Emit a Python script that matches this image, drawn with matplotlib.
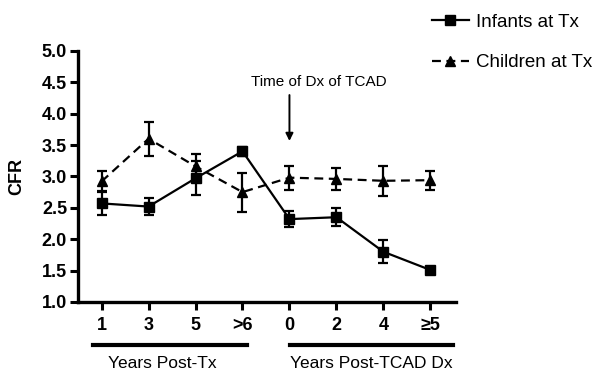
import matplotlib
matplotlib.use("Agg")
import matplotlib.pyplot as plt
from matplotlib.lines import Line2D

plt.rcParams['font.family'] = ['Liberation Sans', 'DejaVu Sans']

# CFR by follow-up time point
tick_labels = ['1', '3', '5', '>6', '0', '2', '4', '\u22655']
infants = [2.57, 2.52, 2.97, 3.40, 2.32, 2.35, 1.80, 1.51]
infants_err = [0.18, 0.14, 0.27, 0.07, 0.13, 0.14, 0.18, 0.02]
children = [2.92, 3.60, 3.16, 2.75, 2.98, 2.96, 2.93, 2.94]
children_err = [0.16, 0.27, 0.19, 0.31, 0.19, 0.17, 0.24, 0.15]

x = list(range(len(tick_labels)))
dash = (0, (4, 2.5))

fig = plt.figure(figsize=(6.01, 3.71), dpi=100)
ax = fig.add_axes([0.13, 0.186, 0.629, 0.677])

ax.errorbar(x, infants, yerr=infants_err, color='black', lw=1.6,
            marker='s', ms=7, capsize=3.8, capthick=1.6, elinewidth=1.6)
ax.errorbar(x, children, yerr=children_err, color='black', lw=1.6, ls=dash,
            marker='^', ms=7.5, capsize=3.8, capthick=1.6, elinewidth=1.6)

ax.set_xlim(-0.5, 7.55)
ax.set_ylim(1.0, 5.0)
ax.set_yticks([1.0, 1.5, 2.0, 2.5, 3.0, 3.5, 4.0, 4.5, 5.0])
ax.set_yticklabels(['%.1f' % v for v in ax.get_yticks()], fontsize=13, fontweight='bold')
ax.set_xticks(x)
ax.set_xticklabels(tick_labels, fontsize=13, fontweight='bold')
ax.set_ylabel('CFR', fontsize=13, fontweight='bold')
ax.yaxis.set_label_coords(-0.14, 0.5)

for side in ['top', 'right']:
    ax.spines[side].set_visible(False)
for side in ['left', 'bottom']:
    ax.spines[side].set_linewidth(2.4)
ax.tick_params(axis='x', width=2.2, length=5.5, direction='out', pad=5)
ax.tick_params(axis='y', width=2.2, length=6, direction='out', pad=2)

# arrow marking the diagnosis time point
ax.annotate('', xy=(4, 3.52), xytext=(4, 4.34),
            arrowprops=dict(arrowstyle='-|>', color='black', lw=1.4, mutation_scale=11))
ax.text(4.62, 4.50, 'Time of Dx of TCAD', ha='center', va='center', fontsize=11)

# group brackets under the x axis
tr = ax.get_xaxis_transform()
ax.plot([-0.19, 3.1], [-0.171, -0.171], transform=tr, color='black', lw=3, clip_on=False)
ax.plot([4.02, 7.49], [-0.171, -0.171], transform=tr, color='black', lw=3, clip_on=False)
ax.text(1.3, -0.245, 'Years Post-Tx', transform=tr, ha='center', va='center', fontsize=12.5)
ax.text(5.74, -0.245, 'Years Post-TCAD Dx', transform=tr, ha='center', va='center', fontsize=12.5)

handles = [
    Line2D([], [], color='black', lw=1.6, marker='s', ms=6.5),
    Line2D([], [], color='black', lw=1.6, ls=dash, marker='^', ms=7),
]
fig.legend(handles, ['Infants at Tx', 'Children at Tx'], loc='upper left',
           bbox_to_anchor=(0.718, 0.963), frameon=False, fontsize=13.5,
           borderpad=0, borderaxespad=0, handlelength=2.0,
           handletextpad=0.37, labelspacing=1.25)

fig.savefig('out.png', dpi=100)
